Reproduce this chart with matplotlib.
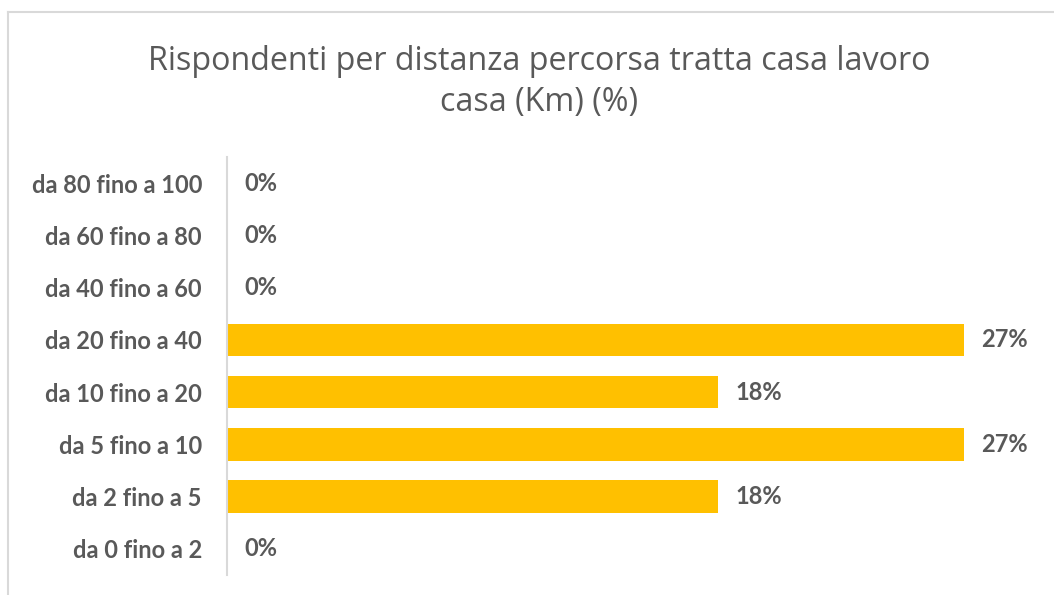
import matplotlib.pyplot as plt
from matplotlib.lines import Line2D

# Data
categories = ['da 0 fino a 2', 'da 2 fino a 5', 'da 5 fino a 10', 'da 10 fino a 20',
              'da 20 fino a 40', 'da 40 fino a 60', 'da 60 fino a 80', 'da 80 fino a 100']
values = [0, 18.18, 27.27, 18.18, 27.27, 0, 0, 0]
title = 'Rispondenti per distanza percorsa tratta casa lavoro\ncasa (Km) (%)'

text_col = '#595959'
bar_col = '#FFC000'

fig = plt.figure(figsize=(10.54, 5.95), dpi=100)
ax = fig.add_axes([227 / 1054, 1 - 575 / 595, (1038 - 227) / 1054, (575 - 157) / 595])

ypos = range(len(categories))
ax.barh(ypos, values, height=0.62, color=bar_col)
ax.set_xlim(0, 30)
ax.set_ylim(-0.5, len(categories) - 0.5)

ax.set_yticks(list(ypos))
ax.set_yticklabels(categories, fontfamily='Lato', fontweight='bold', fontsize=17, color=text_col)
ax.tick_params(axis='y', length=0, pad=18)
ax.set_xticks([])
for s in ['top', 'right', 'bottom']:
    ax.spines[s].set_visible(False)
ax.spines['left'].set_color('#d9d9d9')
ax.spines['left'].set_linewidth(1.5)

# value labels
for y, v in zip(ypos, values):
    ax.annotate(f'{v:.0f}%', (v, y), xytext=(17, 0), textcoords='offset pixels',
                ha='left', va='center', fontfamily='Lato', fontweight='bold',
                fontsize=17, color=text_col)

fig.text(539 / 1054, 1 - 82 / 595, title, ha='center', va='center', fontfamily='Open Sans',
         fontsize=23.2, color=text_col, linespacing=1.35)

# chart border (left and top edges visible)
fig.add_artist(Line2D([8 / 1054, 8 / 1054], [0, 1 - 12 / 595], transform=fig.transFigure,
                      color='#d9d9d9', lw=1.5))
fig.add_artist(Line2D([8 / 1054, 1], [1 - 12 / 595, 1 - 12 / 595], transform=fig.transFigure,
                      color='#d9d9d9', lw=1.5))

fig.savefig('out.png', dpi=100)
